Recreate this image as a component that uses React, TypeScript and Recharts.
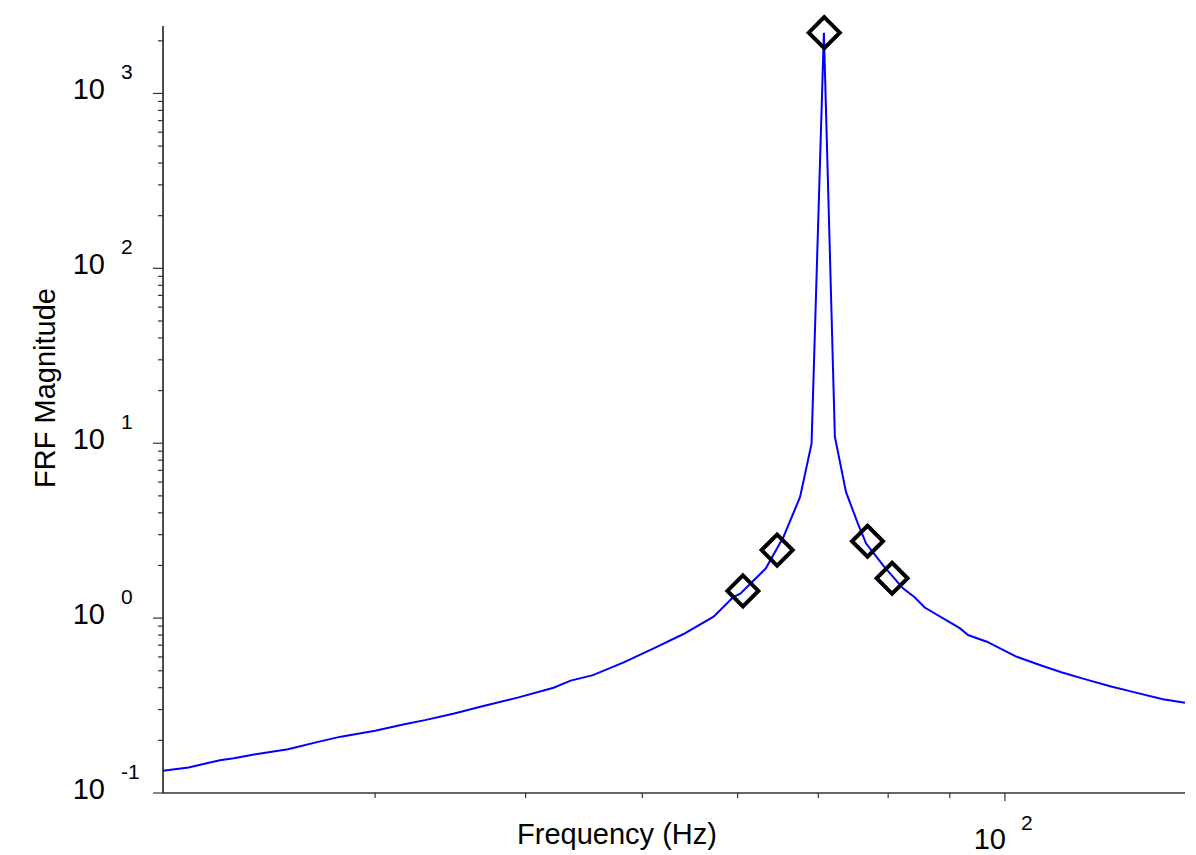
import React from 'react';
import {
	ComposedChart,
	Line,
	Scatter,
	XAxis,
	YAxis,
	Label,
} from 'recharts';

// measured FRF curve (Hz, magnitude)
const freqHz = [
	20.0, 21.0, 22.3, 22.9, 23.8, 25.4, 26.9, 28.1, 30.0, 31.8, 33.0, 34.9, 36.9,
	39.4, 42.2, 43.6, 45.5, 48.2, 51.1, 54.1, 57.3, 59.5, 60.3, 63.3, 65.5, 67.6,
	69.1, 70.75, 72.25, 73.8, 75.5, 76.7, 79.2, 82.3, 84.1, 85.8, 91.8, 93.2, 96.6,
	102.3, 106.9, 111.4, 116.5, 122.3, 128.2, 135.3, 141.1,
];
const magnitude = [
	0.134, 0.14, 0.154, 0.158, 0.166, 0.178, 0.196, 0.21, 0.227, 0.248, 0.261,
	0.285, 0.314, 0.351, 0.4, 0.439, 0.472, 0.556, 0.671, 0.811, 1.02, 1.32, 1.38,
	1.92, 2.92, 4.93, 9.95, 2225, 10.9, 5.27, 3.47, 2.67, 2.01, 1.48, 1.32, 1.15,
	0.873, 0.8, 0.733, 0.601, 0.539, 0.49, 0.448, 0.408, 0.376, 0.344, 0.328,
];

// picked points (diamonds)
const markerHz = [60.6, 64.7, 70.8, 76.9, 80.6];
const markerMag = [1.43, 2.45, 2225, 2.75, 1.69];

const xTicks = [20, 30, 40, 50, 60, 70, 80, 90, 100];
const yTicks = [
	0.1, 0.2, 0.3, 0.4, 0.5, 0.6, 0.7, 0.8, 0.9,
	1, 2, 3, 4, 5, 6, 7, 8, 9,
	10, 20, 30, 40, 50, 60, 70, 80, 90,
	100, 200, 300, 400, 500, 600, 700, 800, 900,
	1000, 2000,
];

const curveData = freqHz.map((f, i) => ({ freq: f, mag: magnitude[i] }));
const markerData = markerHz.map((f, i) => ({ freq: f, mag: markerMag[i] }));

const FONT = '"Liberation Sans", Arial, sans-serif';
const AXIS = '#333';

const isMajor = (v: number) => {
	const l = Math.log10(v);
	return Math.abs(l - Math.round(l)) < 1e-6;
};

const YTick = ({ x, y, payload }: any) => {
	const v = payload.value;
	const major = isMajor(v);
	const exp = Math.round(Math.log10(v));
	return (
		<g>
			<line x1={x - (major ? 10 : 5)} x2={x} y1={y} y2={y} stroke={AXIS} strokeWidth={1.2} />
			{major && (
				<g fontFamily={FONT} fill="#000">
					<text x={x - 58} y={y + 6} fontSize={29} textAnchor="end">
						10
					</text>
					<text x={x - 42} y={y - 14} fontSize={21}>
						{exp}
					</text>
				</g>
			)}
		</g>
	);
};

const XTick = ({ x, y, payload }: any) => {
	const v = payload.value;
	if (v === 20) return null;
	const major = isMajor(v);
	return (
		<g>
			<line x1={x} x2={x} y1={y} y2={y + (major ? 8 : 5)} stroke={AXIS} strokeWidth={1.2} />
			{major && (
				<g fontFamily={FONT} fill="#000">
					<text x={x + 1} y={y + 56} fontSize={29} textAnchor="end">
						10
					</text>
					<text x={x + 16} y={y + 37} fontSize={21}>
						2
					</text>
				</g>
			)}
		</g>
	);
};

const Diamond = ({ cx, cy }: any) => {
	const r = 15.5;
	return (
		<path
			d={`M${cx},${cy - r} L${cx + r},${cy} L${cx},${cy + r} L${cx - r},${cy} Z`}
			fill="none"
			stroke="#000"
			strokeWidth={4}
		/>
	);
};

const XTitle = () => (
	<text x={617} y={844} fontFamily={FONT} fontSize={29} fill="#000" textAnchor="middle">
		Frequency (Hz)
	</text>
);

const YTitle = () => (
	<text
		x={0}
		y={0}
		transform="translate(55, 388) rotate(-90)"
		fontFamily={FONT}
		fontSize={29}
		fill="#000"
		textAnchor="middle"
	>
		FRF Magnitude
	</text>
);

export default function App() {
	return (
		<div style={{ position: 'absolute', left: 0, top: 0, background: '#fff' }}>
			<ComposedChart
				width={1196}
				height={855}
				margin={{ top: 26, right: 11, left: 63, bottom: 0 }}
			>
				<XAxis
					dataKey="freq"
					type="number"
					scale="log"
					domain={[20, 141.1]}
					ticks={xTicks}
					height={62}
					tickSize={0}
					tickMargin={0}
					tickLine={false}
					tick={<XTick />}
					interval={0}
					stroke={AXIS}
					strokeWidth={1.5}
				>
					<Label content={<XTitle />} />
				</XAxis>
				<YAxis
					dataKey="mag"
					type="number"
					scale="log"
					domain={[0.1, 2430]}
					ticks={yTicks}
					width={100}
					tickSize={0}
					tickMargin={0}
					tickLine={false}
					tick={<YTick />}
					interval={0}
					stroke="#111"
					strokeWidth={1.5}
				>
					<Label content={<YTitle />} />
				</YAxis>
				<Line
					data={curveData}
					dataKey="mag"
					type="linear"
					stroke="#0000ff"
					strokeWidth={2}
					dot={false}
					isAnimationActive={false}
				/>
				<Scatter
					data={markerData}
					dataKey="mag"
					shape={<Diamond />}
					isAnimationActive={false}
				/>
			</ComposedChart>
		</div>
	);
}
